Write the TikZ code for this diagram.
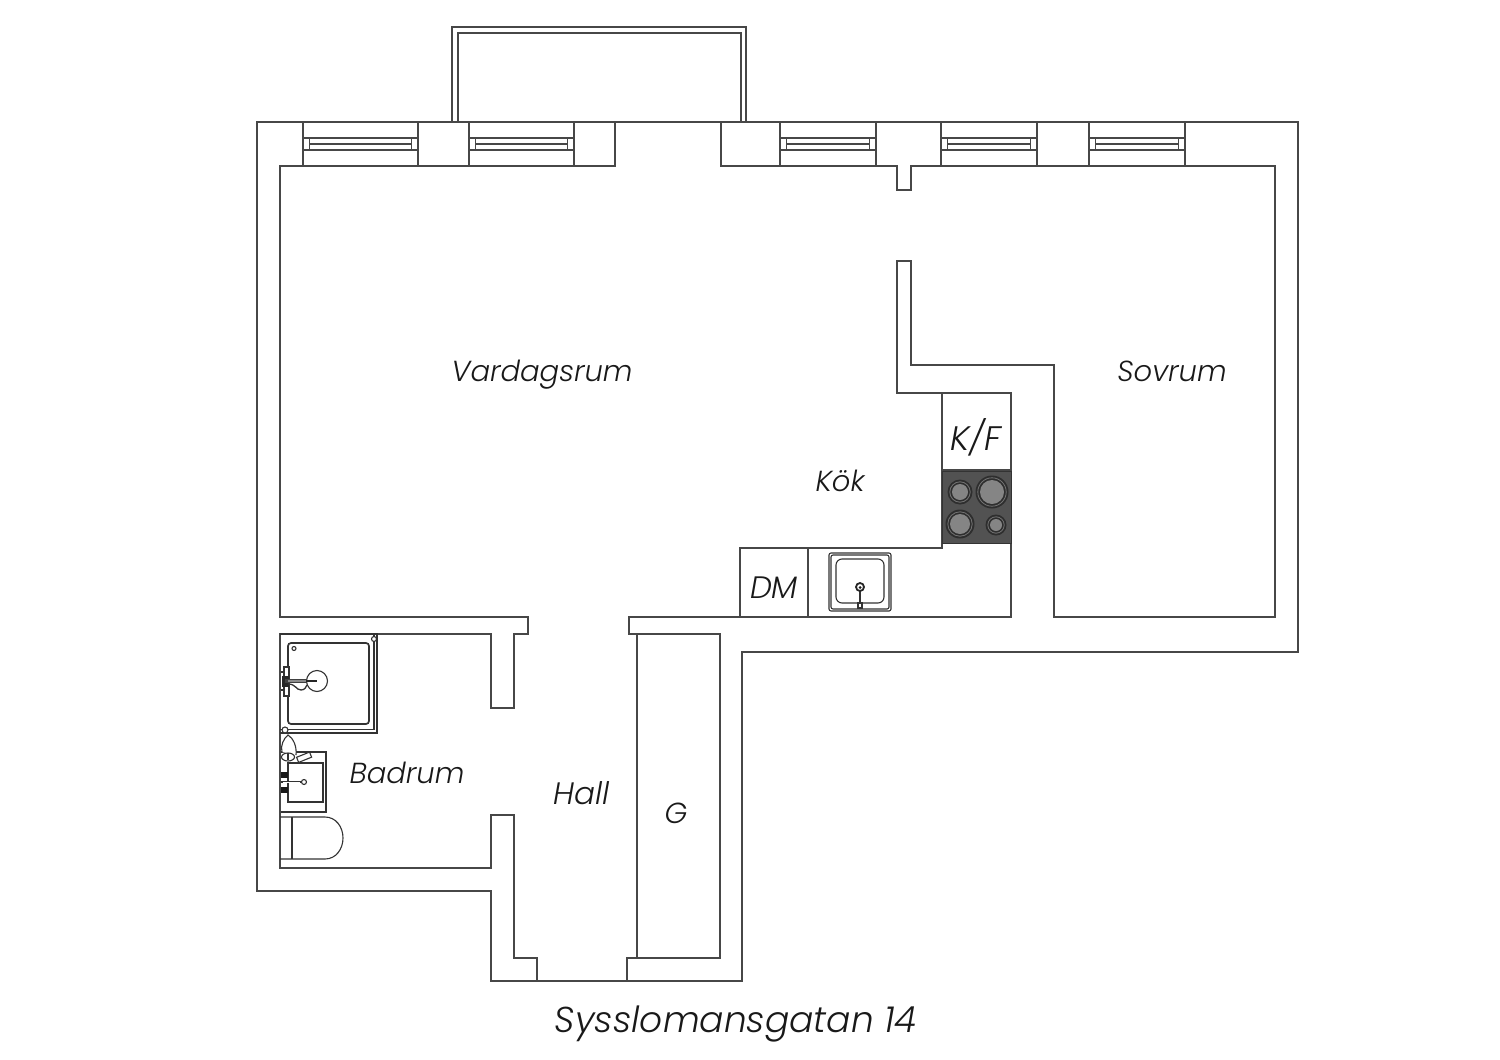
\documentclass[tikz,border=0pt]{standalone}
\usepackage{fontspec}
\setmainfont{Poppins Light Italic}
\tikzset{
  wall/.style={draw=black!72,line width=1.5pt,line join=miter},
  thin/.style={draw=black!72,line width=1.1pt},
  fix/.style={draw=black!80,line width=1.1pt},
  room/.style={font=\fontsize{29}{29}\selectfont,text=black!90,inner sep=0pt,anchor=base},
}
\newcommand{\windowat}[2]{%
  \draw[thin] (#1,122) -- (#1,166) (#2,122) -- (#2,166);
  \draw[thin] (#1,138) -- (#2,138) (#1,150) -- (#2,150);
  \draw[thin] ({#1+6.5},138) -- ({#1+6.5},150) ({#2-6.5},138) -- ({#2-6.5},150);
  \draw[thin] ({#1+6.5},144) -- ({#2-6.5},144);
}
\begin{document}
\begin{tikzpicture}[x=1pt,y=-1pt]
\useasboundingbox (0,0) rectangle (1500,1060);
% balcony
\draw[wall] (452,122) -- (452,27) -- (746,27) -- (746,122);
\draw[wall] (458,122) -- (458,33) -- (741,33) -- (741,122);
% outer wall
\draw[wall] (257,122) -- (1298,122) -- (1298,652) -- (742,652) -- (742,981) -- (491,981) -- (491,891) -- (257,891) -- cycle;
% inner walls
\draw[wall] (615,122) -- (615,166) -- (280,166) -- (280,617) -- (528,617) -- (528,634) -- (514,634) -- (514,708) -- (491,708) -- (491,634) -- (280,634) -- (280,868) -- (491,868) -- (491,815) -- (514,815) -- (514,958) -- (537,958) -- (537,981);
\draw[wall] (721,122) -- (721,166) -- (897,166) -- (897,190) -- (911,190) -- (911,166) -- (1275,166) -- (1275,617) -- (1054,617) -- (1054,365) -- (911,365) -- (911,261) -- (897,261) -- (897,393) -- (1011,393) -- (1011,617) -- (629,617) -- (629,634) -- (720,634) -- (720,958) -- (627,958) -- (627,981);
\draw[wall] (637,634) -- (637,958);
% windows
\windowat{303}{418}
\windowat{469}{574}
\windowat{780}{876}
\windowat{941}{1037}
\windowat{1089}{1185}
% kitchen units
\draw[wall] (942,393) -- (942,548) -- (740,548) -- (740,617);
\draw[wall] (808,548) -- (808,617);
\draw[wall] (942,470) -- (1011,470);
% stove
\fill[black!68,draw=black!80,line width=1pt] (942,471) rectangle (1011,543);
\foreach \cx/\cy/\r in {960/492/8,992/492/12,960/524/10,996/525/6}{
  \fill[black!82] (\cx,\cy) circle ({\r+4.5});
  \draw[black!55,line width=.8pt] (\cx,\cy) circle ({\r+2.2});
  \fill[black!48] (\cx,\cy) circle (\r);
}
% kitchen sink
\draw[fix,rounded corners=2pt] (829,553) rectangle (891,611);
\draw[fix,rounded corners=2pt] (831,555) rectangle (889,609);
\draw[fix,rounded corners=6pt] (836,559) rectangle (884,603);
\draw[fix,line width=2pt] (860,587) -- (860,606);
\draw[black!85,line width=1.8pt,fill=white] (860,587) circle (4);
\fill[black!90] (860,587.5) circle (1.5);
\draw[fix,fill=white] (858,603) rectangle (862,608);
% shower
\draw[fix,line width=1.3pt] (280,634) -- (377,634) -- (377,733) -- (280,733);
\draw[fix] (374,634) -- (374,729.5) -- (280,729.5);
\draw[fix,line width=1.7pt,rounded corners=3pt] (288,643) rectangle (369,724);
\draw[fix,fill=white] (374,639) circle (2.5);
\draw[fix,fill=white] (285,730) circle (3);
\draw[fix] (294,648.5) circle (2);
\draw[fix,fill=white] (284,667) rectangle (289,696);
\draw[fix,line width=2pt] (281,672) -- (285,672) (281,690) -- (285,690);
\fill[black!85] (282,676) rectangle (289,687);
\draw[fix] (317,681) circle (10.5);
\draw[fix,line width=1.3pt] (288,684) .. controls (296,684) and (296,690) .. (301,690) .. controls (305,690) and (306,687) .. (307,685);
\draw[black!75,line width=4.4pt] (285,681) -- (307,681);
\draw[black!45,line width=2pt] (288,681) -- (306,681);
\draw[black!85,line width=1.6pt] (306,681) -- (317,681);
% washbasin
\draw[fix,line width=1.2pt] (281,752) -- (326,752) -- (326,812) -- (281,812);
\draw[fix,line width=1.3pt] (288,763) rectangle (323,802);
\draw[fix,fill=white] (282,752) .. controls (280,746) and (284,738) .. (288,735) .. controls (293,738) and (297,746) .. (296,755);
\draw[fix,fill=white] (288,757) ellipse (6.5 and 4);
\draw[fix,line width=1.8pt] (288,753) -- (288,760);
\draw[fix,fill=white,rotate around={22:(304,757)}] (297,754.5) rectangle (311,760);
\fill[black!90] (281,772) rectangle (288,778);
\fill[black!90] (281,787) rectangle (288,793);
\draw[fix,line width=2.6pt] (281,782) -- (302,782);
\draw[white,line width=1pt] (283,782) -- (300,782);
\draw[fix,fill=white] (304,782) circle (2.5);
% toilet
\draw[fix] (280,817) -- (325,817) .. controls (336,817) and (343,827) .. (343,838) .. controls (343,849) and (336,859) .. (325,859) -- (280,859);
\draw[fix] (292,817) -- (292,859);
% labels
\node[room] (vardagsrum) at (542,381) {Vardagsrum};
\node[room] (sovrum) at (1172,381) {Sovrum};
\node[room,font=\fontsize{34}{34}\selectfont] (kf) at (976,450) {K/F};
\node[room] (kok) at (840,491) {Kök};
\node[room,font=\fontsize{31}{31}\selectfont] (dm) at (774,598) {DM};
\node[room] (badrum) at (407,783) {Badrum};
\node[room,font=\fontsize{31}{31}\selectfont] (hall) at (582,804) {Hall};
\node[room] (g) at (676,823) {G};
\node[room,font=\fontsize{36}{36}\selectfont] (title) at (736,1032) {Sysslomansgatan 14};
\end{tikzpicture}
\end{document}
